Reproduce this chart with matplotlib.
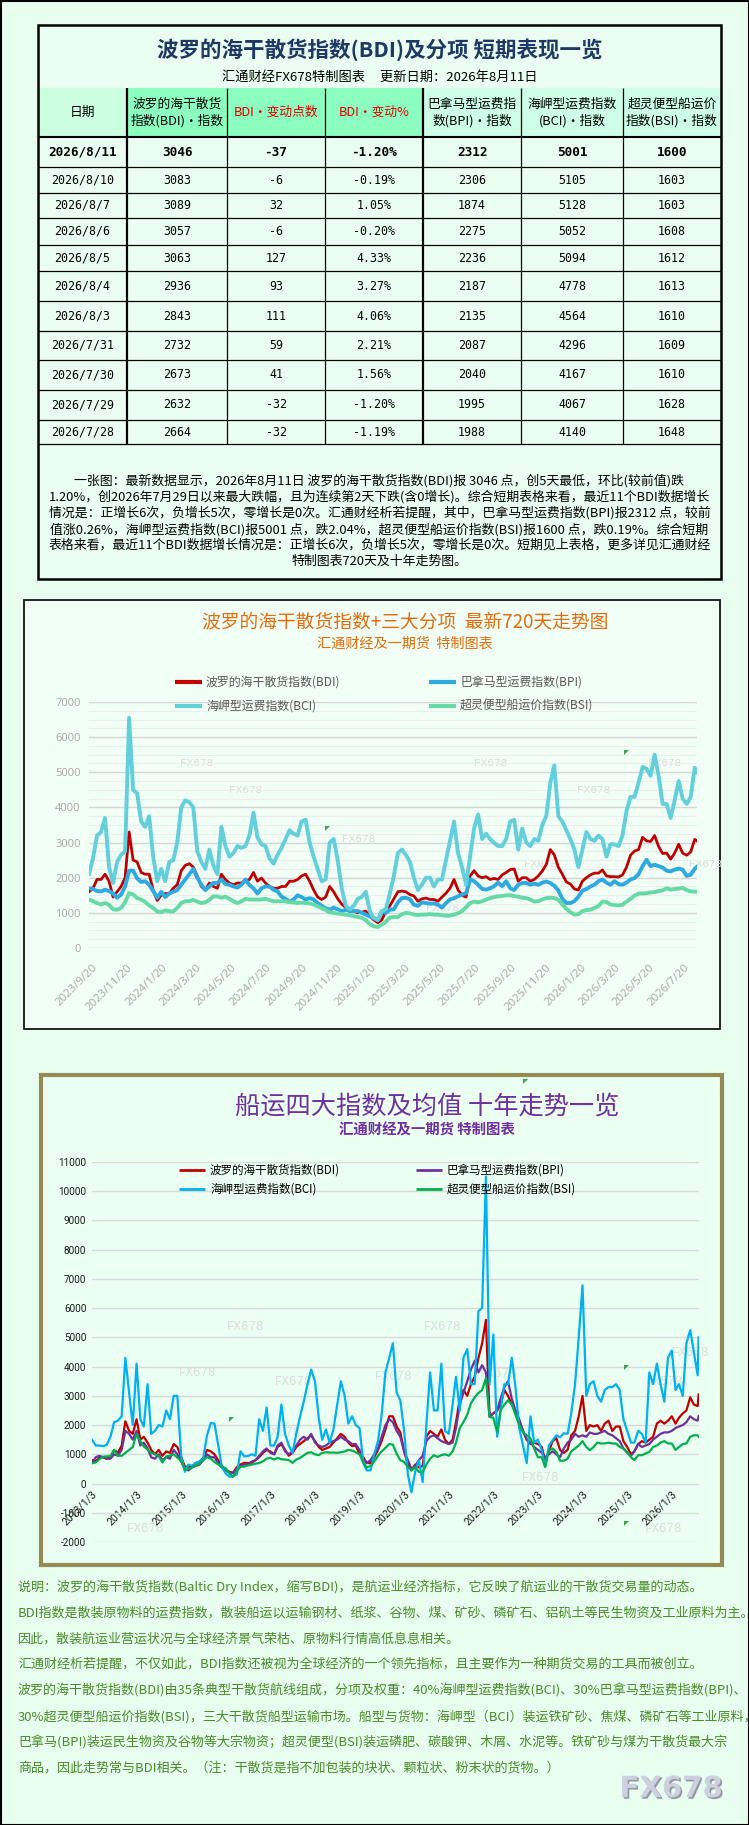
import matplotlib
matplotlib.use('Agg')
import matplotlib.pyplot as plt
from matplotlib.patches import Rectangle, Polygon
from matplotlib.lines import Line2D
import matplotlib.patheffects as pe
import pandas as pd
import numpy as np
from datetime import datetime

plt.rcParams['font.family'] = ['Noto Sans CJK SC', 'DejaVu Sans']

# ---------------- table data ----------------
tbl_dates = ['2026/8/11', '2026/8/10', '2026/8/7', '2026/8/6', '2026/8/5', '2026/8/4',
             '2026/8/3', '2026/7/31', '2026/7/30', '2026/7/29', '2026/7/28']
tbl_bdi = [3046, 3083, 3089, 3057, 3063, 2936, 2843, 2732, 2673, 2632, 2664]
tbl_chg = [-37, -6, 32, -6, 127, 93, 111, 59, 41, -32, -32]
tbl_pct = ['-1.20%', '-0.19%', '1.05%', '-0.20%', '4.33%', '3.27%', '4.06%', '2.21%', '1.56%', '-1.20%', '-1.19%']
tbl_bpi = [2312, 2306, 1874, 2275, 2236, 2187, 2135, 2087, 2040, 1995, 1988]
tbl_bci = [5001, 5105, 5128, 5052, 5094, 4778, 4564, 4296, 4167, 4067, 4140]
tbl_bsi = [1600, 1603, 1603, 1608, 1612, 1613, 1610, 1609, 1610, 1628, 1648]
tbl_headers = [["日期"], ["波罗的海干散货", "指数(BDI)・指数"], ["BDI・变动点数"], ["BDI・变动%"],
               ["巴拿马型运费指", "数(BPI)・指数"], ["海岬型运费指数", "(BCI)・指数"],
               ["超灵便型船运价", "指数(BSI)・指数"]]

summary_lines = [
    "一张图：最新数据显示，2026年8月11日 波罗的海干散货指数(BDI)报 3046 点，创5天最低，环比(较前值)跌",
    "1.20%，创2026年7月29日以来最大跌幅，且为连续第2天下跌(含0增长)。综合短期表格来看，最近11个BDI数据增长",
    "情况是：正增长6次，负增长5次，零增长是0次。汇通财经析若提醒，其中，巴拿马型运费指数(BPI)报2312 点，较前",
    "值涨0.26%，海岬型运费指数(BCI)报5001 点，跌2.04%，超灵便型船运价指数(BSI)报1600 点，跌0.19%。综合短期",
    "表格来看，最近11个BDI数据增长情况是：正增长6次，负增长5次，零增长是0次。短期见上表格，更多详见汇通财经",
    "特制图表720天及十年走势图。",
]

# ---------------- chart 1 (720 days, weekly readings) ----------------
c1_start = '2023-09-15'
c1_last = '2026-08-11'
c1_bdi = [1600, 1700, 1950, 1950, 2100, 1900, 1450, 1600, 1750, 2000,
          3300, 2500, 2450, 2150, 2100, 2100, 1650, 1350, 1500, 1550,
          1550, 1700, 1800, 2200, 2350, 2400, 2300, 2050, 1750, 1650,
          1850, 1750, 1700, 2100, 1950, 1850, 1800, 1850, 1850, 1900,
          1950, 2150, 1900, 1990, 1850, 1750, 1700, 1700, 1750, 1750,
          1900, 1900, 1950, 2050, 2100, 1900, 1650, 1450, 1380, 1450,
          1750, 1600, 1400, 1250, 1150, 1050, 1050, 1000, 1020, 1050,
          900, 800, 720, 800, 1050, 1200, 1400, 1600, 1620, 1600,
          1520, 1480, 1330, 1400, 1420, 1380, 1380, 1330, 1450, 1560,
          1700, 1950, 1650, 1500, 1450, 2050, 2200, 2050, 2000, 2030,
          1950, 1980, 1950, 2080, 2150, 2230, 2250, 1900, 2000, 2000,
          1900, 1950, 2050, 2190, 2380, 2800, 2650, 2300, 2100, 1880,
          1820, 1680, 1650, 1900, 2000, 2080, 2130, 2130, 2220, 2050,
          2030, 2030, 2020, 2080, 2300, 2640, 2760, 2800, 3150, 3050,
          3030, 3200, 2890, 2690, 2700, 2530, 2700, 2950, 2700, 2640,
          2732, 3089, 3046]
c1_bpi = [1700, 1680, 1620, 1610, 1660, 1620, 1550, 1430, 1520, 1750,
          2200, 2200, 1980, 1880, 1900, 1800, 1620, 1430, 1600, 1450,
          1550, 1600, 1650, 1800, 1950, 2100, 2250, 2000, 1800, 1650,
          1750, 1850, 1850, 1950, 1820, 1800, 1750, 1720, 1800, 1950,
          1790, 1700, 1550, 1700, 1750, 1750, 1660, 1610, 1460, 1400,
          1320, 1380, 1500, 1450, 1380, 1420, 1380, 1280, 1200, 1130,
          1090, 1150, 1100, 1045, 1090, 1050, 1050, 1050, 1000, 950,
          900, 855, 790, 1045, 1000, 1090, 1100, 1300, 1420, 1430,
          1390, 1230, 1200, 1300, 1280, 1260, 1270, 1230, 1150, 1280,
          1380, 1420, 1470, 1520, 1560, 1950, 1900, 1800, 1680, 1660,
          1700, 1760, 1860, 1760, 1900, 1700, 1650, 1800, 1850, 1850,
          1800, 1830, 1800, 1860, 1890, 1850, 1770, 1640, 1400, 1280,
          1280, 1330, 1460, 1630, 1680, 1750, 1800, 1900, 1950, 1860,
          1800, 1900, 1820, 1800, 1860, 1950, 1990, 2100, 2330, 2510,
          2330, 2370, 2330, 2290, 2200, 2180, 2230, 2260, 2230, 2050,
          2087, 2250, 2312]
c1_bci = [2100, 2550, 3200, 3300, 3700, 2300, 1850, 2450, 2650, 2750,
          6550, 4500, 4400, 3600, 3450, 3750, 2600, 1900, 2250, 1900,
          2450, 2500, 3000, 4000, 4200, 4150, 4000, 2750, 2450, 2250,
          2800, 2350, 2100, 3450, 2900, 2600, 2700, 2900, 2850, 2900,
          3200, 3850, 3150, 2950, 2900, 2550, 2400, 2650, 2850, 3100,
          3350, 3250, 3200, 3600, 3650, 3000, 2600, 2250, 1900, 1950,
          3000, 3100, 2500, 1700, 1200, 1100, 1200, 1400, 1450, 1600,
          1050, 850, 800, 1050, 1100, 1550, 2050, 2700, 2800, 2650,
          2450, 2000, 1650, 1800, 2000, 2000, 1750, 1950, 1950, 2500,
          3050, 3600, 2700, 2300, 1800, 2600, 3400, 3800, 3100, 3250,
          3100, 2990, 2900, 2900, 3100, 3600, 3650, 2800, 3400, 3000,
          2900, 3100, 3050, 3500, 3750, 4700, 5200, 3750, 3600, 3350,
          3100, 2800, 2300, 2800, 3300, 3100, 3050, 3200, 3100, 2600,
          2950, 2950, 2900, 3200, 3900, 4300, 4300, 4700, 5150, 5100,
          4900, 5500, 4900, 4100, 4100, 3700, 4200, 4750, 4250, 4100,
          4296, 5128, 5001]
c1_bsi = [1380, 1330, 1280, 1240, 1280, 1230, 1100, 1090, 1140, 1300,
          1560, 1520, 1420, 1380, 1310, 1210, 1140, 1040, 1020, 1070,
          1050, 1040, 1140, 1280, 1330, 1330, 1370, 1320, 1280, 1300,
          1370, 1470, 1470, 1430, 1460, 1400, 1330, 1280, 1330, 1400,
          1380, 1380, 1380, 1380, 1400, 1360, 1330, 1330, 1330, 1330,
          1300, 1300, 1280, 1290, 1280, 1270, 1240, 1190, 1130, 1080,
          1015, 996, 980, 970, 950, 935, 905, 882, 860, 790,
          680, 620, 598, 664, 740, 870, 880, 880, 960, 1000,
          985, 950, 940, 950, 950, 965, 950, 950, 930, 920,
          920, 950, 990, 1050, 1160, 1280, 1320, 1300, 1330, 1380,
          1420, 1450, 1470, 1480, 1500, 1500, 1480, 1460, 1430, 1420,
          1380, 1320, 1330, 1380, 1420, 1430, 1420, 1370, 1240, 1110,
          1020, 950, 960, 1050, 1080, 1090, 1140, 1190, 1320, 1310,
          1240, 1220, 1210, 1230, 1320, 1400, 1490, 1550, 1550, 1560,
          1580, 1590, 1620, 1640, 1700, 1660, 1680, 1690, 1710, 1650,
          1609, 1603, 1600]
c1_ticklabels = ['2023/9/20', '2023/11/20', '2024/1/20', '2024/3/20', '2024/5/20', '2024/7/20',
                 '2024/9/20', '2024/11/20', '2025/1/20', '2025/3/20', '2025/5/20', '2025/7/20',
                 '2025/9/20', '2025/11/20', '2026/1/20', '2026/3/20', '2026/5/20', '2026/7/20']

# ---------------- chart 2 (ten years, monthly readings) ----------------
c2_start = '2013-01-03'
c2_last = '2026-08-11'
c2_bdi = [800, 760, 880, 900, 850, 880, 1150, 1050, 1300, 2130, 1800, 1700,
          2200, 1500, 1600, 1400, 1150, 1000, 1150, 950, 1100, 1050, 1350, 1250,
          900, 580, 570, 600, 700, 750, 880, 1150, 1100, 1000, 800, 600,
          480, 400, 370, 560, 650, 710, 700, 710, 800, 900, 1050, 1150,
          1100, 1000, 1250, 1350, 1150, 950, 1050, 1250, 1350, 1450, 1550, 1650,
          1450, 1250, 1150, 1200, 1250, 1400, 1550, 1700, 1600, 1400, 1280, 1300,
          1000, 900, 700, 700, 900, 1150, 1450, 1850, 2300, 2300, 1950, 1750,
          1100, 650, 450, 650, 550, 600, 1600, 1800, 1700, 1600, 1850, 1500,
          1350, 1500, 2100, 2900, 3200, 3000, 3400, 3650, 4300, 4800, 5600, 2280,
          2400, 2500, 2700, 3200, 3000, 2700, 2500, 2100, 1800, 1500, 1350, 1400,
          1350, 1250, 800, 1100, 1450, 1550, 1150, 1050, 1150, 1650, 1800, 2300,
          3000, 1800, 2000, 1950, 2000, 1800, 2050, 2150, 1800, 1950, 1950, 1450,
          1250, 1000, 1100, 1350, 1450, 1400, 1500, 1600, 2050, 2150, 2050, 2150,
          2300, 2050, 2250, 2400, 2500, 2950, 2700, 2650, 3046]
c2_bpi = [700, 900, 950, 900, 850, 850, 1000, 950, 1150, 1800, 1700, 1500,
          1800, 1300, 1400, 1200, 900, 850, 1000, 800, 900, 850, 1150, 1000,
          750, 500, 450, 550, 600, 650, 800, 1000, 900, 900, 700, 550,
          450, 380, 350, 500, 600, 650, 650, 750, 800, 950, 1100, 1200,
          1050, 1000, 1300, 1400, 1100, 1000, 1100, 1300, 1500, 1600, 1500, 1700,
          1400, 1300, 1250, 1300, 1400, 1450, 1500, 1600, 1500, 1450, 1350, 1350,
          1150, 850, 700, 800, 1000, 1200, 1600, 2000, 2200, 2100, 1800, 1600,
          1100, 800, 500, 600, 800, 950, 1450, 1600, 1650, 1550, 1450, 1400,
          1350, 1400, 1900, 2700, 3100, 3500, 3900, 4200, 3800, 4050, 3800, 2300,
          2400, 2500, 2900, 3300, 3500, 2900, 2500, 2200, 1800, 1500, 1400, 1250,
          1150, 1050, 900, 1000, 1100, 1000, 900, 1200, 1400, 1500, 1700, 1600,
          1650, 1600, 1750, 1700, 1700, 1750, 1800, 1700, 1650, 1550, 1450, 1200,
          1050, 950, 1100, 1350, 1250, 1300, 1350, 1500, 1600, 1700, 1750, 1750,
          1800, 1900, 1950, 2000, 2100, 2300, 2200, 2150, 2312]
c2_bci = [1500, 1300, 1300, 1280, 1320, 1600, 2100, 2150, 2300, 4300, 3100, 2000,
          4100, 2200, 1950, 3400, 1700, 1800, 2000, 1950, 2500, 2200, 3000, 3000,
          950, 400, 650, 600, 700, 760, 860, 1650, 2070, 2050, 1300, 550,
          350, 230, 250, 310, 1100, 930, 940, 1000, 950, 2200, 1800, 2600,
          1300, 1300, 1600, 2700, 1700, 1300, 1050, 1700, 2300, 2800, 3400, 3900,
          3500, 2250, 1500, 1850, 1400, 1850, 2650, 3500, 3000, 2050, 2300, 2000,
          1900, 700, 450, 450, 1000, 1450, 2350, 3800, 4300, 4800, 3100, 2850,
          1800, 300, -300, 400, 800, 50, 2000, 3800, 2500, 2500, 4100, 1800,
          1700, 2700, 3650, 2500, 4300, 4600, 3400, 3400, 5900, 6000, 10500, 3400,
          5100, 1600, 2500, 3400, 3400, 4300, 3300, 1900, 1300, 700, 2300, 1400,
          1500, 1140, 570, 1300, 1480, 1650, 1580, 1720, 1700, 2400, 3400, 5000,
          6780, 3000, 3400, 3500, 3000, 2800, 3200, 3300, 3300, 3400, 3200, 2200,
          1800, 1400, 1400, 1800, 1700, 1400, 3800, 3400, 4100, 3400, 2800, 4300,
          4550, 3200, 3400, 3000, 4800, 5250, 4500, 3700, 5001]
c2_bsi = [700, 720, 830, 920, 930, 940, 1150, 950, 950, 1050, 1150, 1250,
          1700, 1450, 1270, 1160, 1050, 1000, 940, 720, 930, 950, 1000, 890,
          770, 480, 500, 560, 620, 680, 800, 900, 850, 740, 650, 580,
          520, 340, 230, 420, 570, 580, 620, 650, 680, 700, 760, 850,
          880, 820, 880, 830, 820, 800, 710, 820, 880, 960, 1050, 1070,
          1000, 970, 1050, 1070, 1060, 1060, 1050, 1070, 1100, 1150, 1130, 1070,
          1000, 720, 550, 600, 750, 950, 1100, 1220, 1350, 1330, 1020, 800,
          740, 570, 450, 550, 400, 380, 650, 850, 970, 910, 970, 1000,
          950, 1100, 1400, 1900, 2100, 2350, 2740, 2950, 3100, 3200, 3600, 2280,
          2250, 1750, 2500, 2700, 2850, 2700, 2350, 2000, 1750, 1650, 1550, 1200,
          900, 900, 570, 1140, 1200, 1080, 780, 780, 850, 1100, 1200, 1300,
          1450, 1250, 1140, 1250, 1400, 1370, 1370, 1400, 1370, 1370, 1250, 1200,
          1080, 900, 800, 970, 970, 1030, 1080, 1250, 1300, 1400, 1450, 1370,
          1370, 1150, 1250, 1350, 1370, 1600, 1650, 1650, 1600]
c2_ticklabels = ['2013/1/3', '2014/1/3', '2015/1/3', '2016/1/3', '2017/1/3', '2018/1/3', '2019/1/3',
                 '2020/1/3', '2021/1/3', '2022/1/3', '2023/1/3', '2024/1/3', '2025/1/3', '2026/1/3']

legend_names = ['波罗的海干散货指数(BDI)', '巴拿马型运费指数(BPI)', '海岬型运费指数(BCI)', '超灵便型船运价指数(BSI)']

notes = [
    "说明：波罗的海干散货指数(Baltic Dry Index，缩写BDI)，是航运业经济指标，它反映了航运业的干散货交易量的动态。",
    "BDI指数是散装原物料的运费指数，散装船运以运输钢材、纸浆、谷物、煤、矿砂、磷矿石、铝矾土等民生物资及工业原料为主。",
    "因此，散装航运业营运状况与全球经济景气荣枯、原物料行情高低息息相关。",
    "汇通财经析若提醒，不仅如此，BDI指数还被视为全球经济的一个领先指标，且主要作为一种期货交易的工具而被创立。",
    "波罗的海干散货指数(BDI)由35条典型干散货航线组成，分项及权重：40%海岬型运费指数(BCI)、30%巴拿马型运费指数(BPI)、",
    "30%超灵便型船运价指数(BSI)，三大干散货船型运输市场。船型与货物：海岬型（BCI）装运铁矿砂、焦煤、磷矿石等工业原料，",
    "巴拿马(BPI)装运民生物资及谷物等大宗物资；超灵便型(BSI)装运磷肥、碳酸钾、木屑、水泥等。铁矿砂与煤为干散货最大宗",
    "商品，因此走势常与BDI相关。（注：干散货是指不加包装的块状、颗粒状、粉末状的货物。）",
]

# ---------------- figure helpers ----------------
W, H = 749, 1825
fig = plt.figure(figsize=(W / 100, H / 100), dpi=100)
fig.patch.set_facecolor('#E8FFF0')


def X(x):
    return x / W


def Y(y):
    return 1 - y / H


def rect(x0, y0, x1, y1, fc='none', ec='none', lw=0, z=-2):
    fig.add_artist(Rectangle((X(x0), Y(y1)), (x1 - x0) / W, (y1 - y0) / H, transform=fig.transFigure,
                             facecolor=fc, edgecolor=ec, linewidth=lw, zorder=z))


def seg(x0, y0, x1, y1, lw=0.8, c='black', z=3):
    fig.add_artist(Line2D([X(x0), X(x1)], [Y(y0), Y(y1)], transform=fig.transFigure, color=c,
                          linewidth=lw, zorder=z, solid_capstyle='butt'))


def txt(x, y, s, **kw):
    kw.setdefault('ha', 'center')
    kw.setdefault('va', 'center')
    return fig.text(X(x), Y(y), s, **kw)


def add_ax(l, t, r, b):
    return fig.add_axes([X(l), Y(b), (r - l) / W, (b - t) / H])


def tri(x, y, s=5):
    fig.add_artist(Polygon([(X(x), Y(y)), (X(x + s), Y(y)), (X(x), Y(y + s))], closed=True,
                           transform=fig.transFigure, facecolor='#3FA34D', edgecolor='none', zorder=6))


def wm(x, y, size=8.5, c='#DADADA'):
    txt(x, y, 'FX678', fontsize=size, color=c, family='Liberation Mono', zorder=-1)


# outer border
rect(0.5, 0.5, W - 0.5, H - 0.5, fc='none', ec='black', lw=1.5, z=10)

# ---------------- table ----------------
TL, TR, TT, TB = 38, 721, 25, 579
rect(TL, TT, TR, TB, fc='#EAFFF2', ec='none', lw=0)
col_x = [38, 127, 227, 325, 423, 521, 623, 721]
row_y = [88, 137, 167, 193, 218, 245, 271, 301, 331, 360, 390, 420, 444]
head_fc = ['#CCFFE2', '#8CFFC0', '#8CFFC0', '#8CFFC0', '#CCFFE6', '#CCFFE6', '#CCFFE6']
for i in range(7):
    rect(col_x[i], row_y[0], col_x[i + 1], row_y[1], fc=head_fc[i])

txt((TL + TR) / 2, 50, '波罗的海干散货指数(BDI)及分项 短期表现一览', fontsize=15.5, fontweight='bold', color='#1F3864')
txt((TL + TR) / 2, 77, '汇通财经FX678特制图表     更新日期：2026年8月11日', fontsize=9.5, color='black')

for i, lines in enumerate(tbl_headers):
    cx = (col_x[i] + col_x[i + 1]) / 2
    cy = (row_y[0] + row_y[1]) / 2
    color = '#E00000' if i in (2, 3) else 'black'
    if len(lines) == 1:
        txt(cx, cy, lines[0], fontsize=9.2, color=color)
    else:
        txt(cx, cy - 8.5, lines[0], fontsize=9.2, color=color)
        txt(cx, cy + 8.5, lines[1], fontsize=9.2, color=color)

for r in range(len(tbl_dates)):
    cy = (row_y[r + 1] + row_y[r + 2]) / 2
    vals = [tbl_dates[r], str(tbl_bdi[r]), str(tbl_chg[r]), tbl_pct[r], str(tbl_bpi[r]), str(tbl_bci[r]), str(tbl_bsi[r])]
    for i, v in enumerate(vals):
        cx = (col_x[i] + col_x[i + 1]) / 2
        if r == 0:
            txt(cx, cy, v, fontsize=9.2, fontweight='bold', family='DejaVu Sans Mono', color='black')
        else:
            txt(cx, cy, v, fontsize=8.4, family='DejaVu Sans Mono', color='black')

for yy in row_y[1:]:
    seg(TL, yy, TR, yy, lw=1.5 if yy == row_y[1] else 0.9)
for xx in col_x[1:-1]:
    lw = 1.6 if xx in (127, 423) else 0.9
    seg(xx, row_y[0], xx, row_y[-1], lw=lw)
rect(TL, TT, TR, TB, fc='none', ec='black', lw=1.8, z=4)

for k, line in enumerate(summary_lines):
    txt((TL + TR) / 2, 481 + 16.1 * k, line, fontsize=9.3, color='black')

# ---------------- chart 1 ----------------
rect(24, 600, 720, 1029, fc='#F2FFF7', ec='black', lw=1.2)
txt(405, 622, '波罗的海干散货指数+三大分项  最新720天走势图', fontsize=13.5, color='#E46C0A')
txt(405, 644, '汇通财经及一期货  特制图表', fontsize=10.2, color='#E46C0A')

c1_colors = ['#C00000', '#2EAAE1', '#63CFDB', '#66D9A6']
c1_lw = [2.0, 2.8, 2.8, 2.8]
leg1 = [(175, 682), (429, 682), (175, 706), (429, 706)]
for (lx, ly), name, col in zip(leg1, legend_names, c1_colors):
    seg(lx, ly, lx + 27, ly, lw=3.0, c=col, z=5)
    txt(lx + 31, ly, name, fontsize=8.6, color='#595959', ha='left')

for (x, y) in [(197, 763), (246, 790), (359, 839), (491, 763), (594, 790), (665, 763), (541, 864), (706, 864), (443, 908)]:
    wm(x, y, 8)

ax1 = add_ax(89, 702, 697, 948)
ax1.set_facecolor('none')
d1 = list(pd.date_range(c1_start, periods=len(c1_bdi) - 1, freq='7D')) + [pd.Timestamp(c1_last)]
for vals, col, lw in zip([c1_bdi, c1_bpi, c1_bci, c1_bsi], c1_colors, c1_lw):
    ax1.plot(d1, vals, color=col, lw=lw, solid_joinstyle='round', zorder=3)
ax1.set_xlim(pd.Timestamp(c1_start), pd.Timestamp(c1_last))
ax1.set_ylim(0, 7000)
ax1.set_yticks(np.arange(0, 7001, 1000))
ax1.set_yticks(np.arange(0, 7001, 250), minor=True)
ax1.grid(which='major', axis='y', color='#D6D6D6', lw=1.0, zorder=0)
ax1.grid(which='minor', axis='y', color='#EDEDED', lw=0.8, zorder=0)
ax1.grid(which='both', axis='x', visible=False)
ax1.set_yticklabels([str(v) for v in range(0, 7001, 1000)], fontsize=8, color='#A6A6A6', family='Open Sans')
t1 = [pd.to_datetime(s, format='%Y/%m/%d') for s in c1_ticklabels]
ax1.set_xticks(t1)
ax1.set_xticklabels(c1_ticklabels, rotation=45, ha='right', va='top', rotation_mode='anchor',
                    fontsize=8.2, color='#A6A6A6', family='Open Sans')
ax1.tick_params(axis='both', which='both', length=0)
ax1.tick_params(axis='y', pad=6)
ax1.tick_params(axis='x', pad=10)
for s in ax1.spines.values():
    s.set_visible(False)
tri(325, 826)
tri(624, 750)

# ---------------- chart 2 ----------------
rect(41, 1075, 722, 1565, fc='#EBFFF2', ec='#948A54', lw=3.0)
txt(427, 1107, '船运四大指数及均值 十年走势一览', fontsize=18.2, color='#7030A0')
txt(427, 1131, '汇通财经及一期货 特制图表', fontsize=10.4, fontweight='bold', color='#7030A0')

c2_colors = ['#C00000', '#7030A0', '#00B0F0', '#00B050']
leg2 = [(179, 1170), (416, 1170), (179, 1189), (416, 1189)]
for (lx, ly), name, col in zip(leg2, legend_names, c2_colors):
    seg(lx, ly, lx + 26, ly, lw=2.0, c=col, z=5)
    txt(lx + 31, ly, name, fontsize=8.3, color='black', ha='left')

for (x, y) in [(246, 1327), (443, 1327), (198, 1373), (294, 1382), (394, 1377), (499, 1374),
               (541, 1478), (691, 1353), (665, 1382), (664, 1529), (146, 1529), (283, 1433)]:
    wm(x, y, 9, '#DCDCDC')

ax2 = add_ax(92, 1162, 699, 1542)
ax2.set_facecolor('none')
ax2.spines['bottom'].set_position(('data', 0))
for s in ax2.spines.values():
    s.set_visible(False)
d2 = [datetime(2013 + m // 12, m % 12 + 1, 3) for m in range(len(c2_bdi) - 1)] + [pd.Timestamp(c2_last)]
for vals, col in zip([c2_bdi, c2_bpi, c2_bci, c2_bsi], c2_colors):
    ax2.plot(d2, vals, color=col, lw=1.6, zorder=3)
ax2.set_xlim(pd.Timestamp(c2_start), pd.Timestamp('2026-08-14'))
ax2.set_ylim(-2000, 11000)
ax2.set_yticks(np.arange(-2000, 11001, 1000))
ax2.grid(which='major', axis='y', color='#D9D9D9', lw=1.0, zorder=0)
ax2.set_yticklabels([str(v) for v in range(-2000, 11001, 1000)], fontsize=7.2, color='#1A1A1A', family='Roboto')
t2 = [pd.to_datetime(s, format='%Y/%m/%d') for s in c2_ticklabels]
ax2.set_xticks(t2)
ax2.set_xticklabels(c2_ticklabels, rotation=45, ha='right', va='top', rotation_mode='anchor',
                    fontsize=7.6, color='#1A1A1A', family='Roboto')
ax2.tick_params(axis='both', which='both', length=0)
ax2.tick_params(axis='y', pad=4)
ax2.tick_params(axis='x', pad=4)
tri(523, 1079)
tri(229, 1417)
tri(624, 1365)
tri(624, 1521)

# ---------------- notes ----------------
for k, line in enumerate(notes):
    txt(18, 1587 + 25.9 * k, line, fontsize=9.4, color='#4A8A2A', ha='left')

txt(671, 1789, 'FX678', fontsize=21, fontweight='bold', family='DejaVu Sans', color='#CDD0DE',
    path_effects=[pe.withSimplePatchShadow(offset=(1.2, -1.2), shadow_rgbFace='#8C8C9C', alpha=0.9)])

fig.savefig('out.png', dpi=100, facecolor=fig.get_facecolor())
